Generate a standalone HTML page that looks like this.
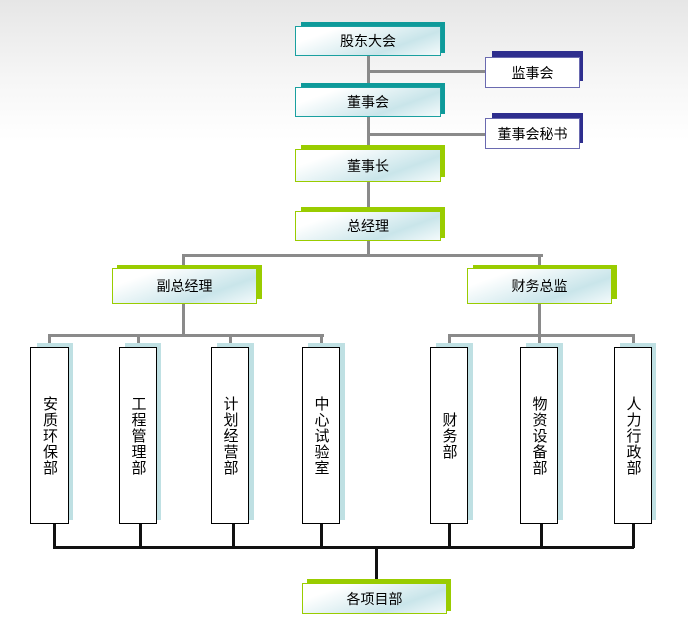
<!DOCTYPE html>
<html><head><meta charset="utf-8"><style>
body{margin:0;width:688px;height:638px;overflow:hidden;background:linear-gradient(#e6e6e6 0px,#f6f6f6 80px,#fff 140px);font-family:"Liberation Sans","Noto Sans CJK SC",sans-serif;position:relative}
div{position:absolute;box-sizing:border-box}
.sh{}
.b{background:linear-gradient(160deg,#fff 20%,#c9e5ea 70%,#f4fafb);display:flex;align-items:center;justify-content:center;font-size:14px;color:#000}
.g{background:#8a8a8a}
.k{background:#111}
.v{background:#fff;border:1px solid #000;font-size:15px;writing-mode:vertical-rl;display:flex;align-items:center;justify-content:center;letter-spacing:1px}
.vs{background:#bfe0e3}
</style></head><body>
<!-- connectors gray -->
<div class="g" style="left:367px;top:54px;width:3px;height:202px"></div>
<div class="g" style="left:368px;top:70px;width:120px;height:3px"></div>
<div class="g" style="left:368px;top:133px;width:120px;height:3px"></div>
<div class="g" style="left:183px;top:254px;width:360px;height:3px"></div>
<div class="g" style="left:182px;top:254px;width:3px;height:14px"></div>
<div class="g" style="left:538px;top:254px;width:3px;height:14px"></div>
<div class="g" style="left:182px;top:302px;width:3px;height:34px"></div>
<div class="g" style="left:538px;top:302px;width:3px;height:34px"></div>
<div class="g" style="left:48px;top:334px;width:276px;height:3px"></div>
<div class="g" style="left:448px;top:334px;width:186px;height:3px"></div>
<div class="g" style="left:48px;top:334px;width:3px;height:14px"></div>
<div class="g" style="left:137px;top:334px;width:3px;height:14px"></div>
<div class="g" style="left:229px;top:334px;width:3px;height:14px"></div>
<div class="g" style="left:320px;top:334px;width:3px;height:14px"></div>
<div class="g" style="left:448px;top:334px;width:3px;height:14px"></div>
<div class="g" style="left:538px;top:334px;width:3px;height:14px"></div>
<div class="g" style="left:632px;top:334px;width:3px;height:14px"></div>
<!-- black -->
<div class="k" style="left:53px;top:546px;width:581px;height:3px"></div>
<div class="k" style="left:53px;top:522px;width:3px;height:26px"></div>
<div class="k" style="left:139px;top:522px;width:3px;height:26px"></div>
<div class="k" style="left:232px;top:522px;width:3px;height:26px"></div>
<div class="k" style="left:320px;top:522px;width:3px;height:26px"></div>
<div class="k" style="left:448px;top:522px;width:3px;height:26px"></div>
<div class="k" style="left:540px;top:522px;width:3px;height:26px"></div>
<div class="k" style="left:632px;top:522px;width:3px;height:26px"></div>
<div class="k" style="left:375px;top:546px;width:3px;height:38px"></div>
<!-- top boxes -->
<div style="left:301px;top:22px;width:144px;height:31px;background:#0e9a9a"></div>
<div class="b" style="left:295px;top:26px;width:146px;height:30px;border:1px solid #1aa0a0">股东大会</div>
<div style="left:492px;top:51px;width:91px;height:30px;background:#2e2e8e"></div>
<div class="b" style="left:485px;top:57px;width:95px;height:31px;border:1px solid #6a6ab0;background:#fff">监事会</div>
<div style="left:301px;top:83px;width:144px;height:31px;background:#0e9a9a"></div>
<div class="b" style="left:295px;top:87px;width:146px;height:30px;border:1px solid #1aa0a0">董事会</div>
<div style="left:492px;top:113px;width:91px;height:30px;background:#2e2e8e"></div>
<div class="b" style="left:485px;top:118px;width:95px;height:31px;border:1px solid #6a6ab0;background:#fff">董事会秘书</div>
<div style="left:301px;top:145px;width:144px;height:32px;background:#99cc00"></div>
<div class="b" style="left:295px;top:149px;width:146px;height:33px;border:1px solid #99cc00">董事长</div>
<div style="left:301px;top:207px;width:144px;height:31px;background:#99cc00"></div>
<div class="b" style="left:295px;top:211px;width:146px;height:30px;border:1px solid #99cc00">总经理</div>
<div style="left:117px;top:265px;width:145px;height:34px;background:#99cc00"></div>
<div class="b" style="left:112px;top:268px;width:145px;height:36px;border:1px solid #99cc00">副总经理</div>
<div style="left:473px;top:265px;width:144px;height:34px;background:#99cc00"></div>
<div class="b" style="left:467px;top:268px;width:145px;height:36px;border:1px solid #99cc00">财务总监</div>
<div style="left:307px;top:579px;width:144px;height:32px;background:#99cc00"></div>
<div class="b" style="left:302px;top:583px;width:145px;height:31px;border:1px solid #99cc00">各项目部</div>
<!-- verticals -->
<div class="vs" style="left:37px;top:343px;width:36px;height:177px"></div>
<div class="v" style="left:30px;top:347px;width:39px;height:177px">安质环保部</div>
<div class="vs" style="left:125px;top:343px;width:36px;height:177px"></div>
<div class="v" style="left:119px;top:347px;width:38px;height:177px">工程管理部</div>
<div class="vs" style="left:217px;top:343px;width:37px;height:177px"></div>
<div class="v" style="left:211px;top:347px;width:38px;height:177px">计划经营部</div>
<div class="vs" style="left:308px;top:343px;width:37px;height:177px"></div>
<div class="v" style="left:302px;top:347px;width:38px;height:177px">中心试验室</div>
<div class="vs" style="left:436px;top:343px;width:37px;height:177px"></div>
<div class="v" style="left:430px;top:347px;width:38px;height:177px">财务部</div>
<div class="vs" style="left:526px;top:343px;width:37px;height:177px"></div>
<div class="v" style="left:520px;top:347px;width:38px;height:177px">物资设备部</div>
<div class="vs" style="left:620px;top:343px;width:36px;height:177px"></div>
<div class="v" style="left:614px;top:347px;width:38px;height:177px">人力行政部</div>
</body></html>
